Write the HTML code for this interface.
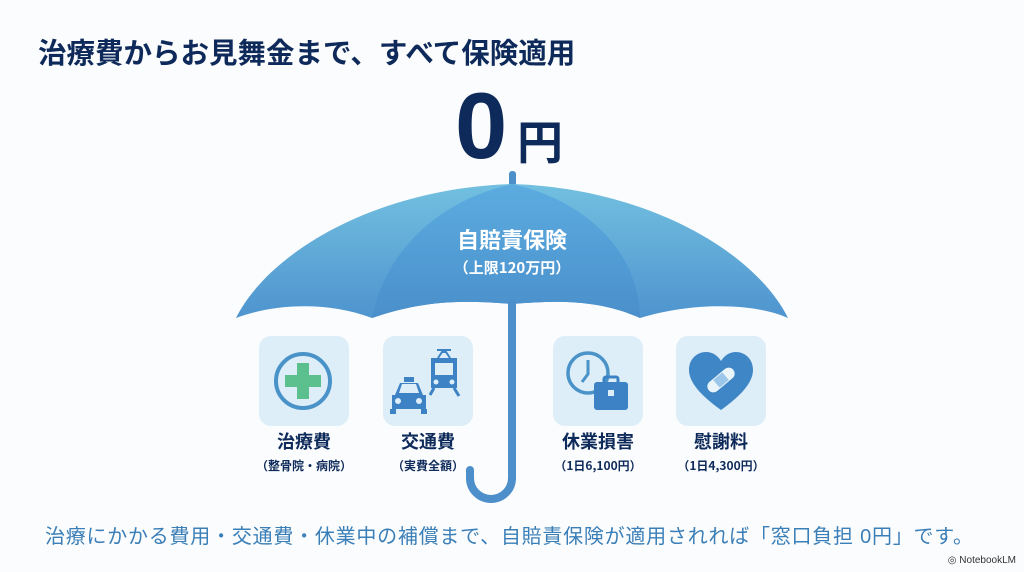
<!DOCTYPE html>
<html><head><meta charset="utf-8"><style>
html,body{margin:0;padding:0;background:#fbfcfd;}
body{width:1024px;height:572px;overflow:hidden;position:relative;font-family:"Liberation Sans","Noto Sans CJK JP",sans-serif;}
</style></head><body>
<svg width="1024" height="572" viewBox="0 0 1024 572" xmlns="http://www.w3.org/2000/svg" style="position:absolute;left:0;top:0">
<defs>
<linearGradient id="cg" x1="0" y1="0" x2="0" y2="1"><stop offset="0" stop-color="#72c0e0"/><stop offset="1" stop-color="#4f94cf"/></linearGradient>
<linearGradient id="mg" x1="0" y1="0" x2="0" y2="1"><stop offset="0" stop-color="#5cace0"/><stop offset="1" stop-color="#4a8fcb"/></linearGradient>
</defs>
<text x="38" y="63" font-size="28.5" font-weight="bold" fill="#0e2a5a" font-family="Liberation Sans,Noto Sans CJK JP,sans-serif">治療費からお見舞金まで、すべて保険適用</text>
<text x="455" y="158" font-size="94" font-weight="bold" fill="#0e2a5a" font-family="Liberation Sans,sans-serif">0</text>
<text x="517" y="159" font-size="46" font-weight="bold" fill="#0e2a5a" font-family="Noto Sans CJK JP,sans-serif">円</text>
<rect x="509" y="171" width="7" height="20" rx="3" fill="#4d90c9"/>
<path d="M236,318 C270,250 380,188 512,184 C644,188 754,250 788,318 C760,305 700,300 640,318 C600,300 560,300 512,304 C464,300 424,300 372,318 C324,300 270,305 236,318 Z" fill="url(#cg)"/>
<path d="M372,318 C385,250 440,200 512,184 C584,200 639,250 640,318 C600,300 560,300 512,304 C464,300 424,300 372,318 Z" fill="url(#mg)"/>
<text x="512" y="248" font-size="22" font-weight="bold" fill="#ffffff" text-anchor="middle" font-family="Noto Sans CJK JP,sans-serif">自賠責保険</text>
<text x="512" y="273" font-size="15" font-weight="bold" fill="#ffffff" text-anchor="middle" font-family="Noto Sans CJK JP,sans-serif">（上限120万円）</text>
<path d="M512,304 L512,478 A21,21 0 0 1 470,478 L470,470" fill="none" stroke="#4d8fca" stroke-width="8" stroke-linecap="round"/>
<rect x="259" y="336" width="90" height="90" rx="12" fill="#ddeef9"/>
<rect x="383" y="336" width="90" height="90" rx="12" fill="#ddeef9"/>
<rect x="553" y="336" width="90" height="90" rx="12" fill="#ddeef9"/>
<rect x="676" y="336" width="90" height="90" rx="12" fill="#ddeef9"/>
<circle cx="303" cy="381" r="27" fill="none" stroke="#4a93c8" stroke-width="4"/>
<path d="M297,363 h12 v12 h12 v12 h-12 v12 h-12 v-12 h-12 v-12 h12 z" fill="#5cbf8e"/>
<path d="M395,395 l5,-12 h18 l5,12 h3 v14 h-34 v-14 z" fill="#3d82c4"/>
<rect x="404" y="377" width="10" height="5" fill="#3d82c4"/>
<rect x="390" y="409" width="6" height="5" fill="#3d82c4"/><rect x="421" y="409" width="6" height="5" fill="#3d82c4"/>
<circle cx="398" cy="401" r="3" fill="#ddeef9"/><circle cx="419" cy="401" r="3" fill="#ddeef9"/>
<path d="M402,384 h14 l3,9 h-20z" fill="#ddeef9"/>
<path d="M431,358 h26 v30 h-26z" fill="#3d82c4"/>
<rect x="435" y="363" width="18" height="12" fill="#ddeef9"/>
<circle cx="436" cy="382" r="2.5" fill="#ddeef9"/><circle cx="452" cy="382" r="2.5" fill="#ddeef9"/>
<path d="M438,358 l4,-6 h4 l4,6 M437,350 h14" stroke="#3d82c4" stroke-width="2" fill="none"/>
<path d="M434,388 l-4,7 M454,388 l5,8" stroke="#3d82c4" stroke-width="3"/>
<circle cx="588" cy="373" r="20" fill="none" stroke="#4a93c8" stroke-width="3.5"/>
<path d="M588,360 v14 l-6,8" stroke="#4a93c8" stroke-width="3" fill="none"/>
<rect x="594" y="382" width="34" height="28" rx="3" fill="#3d82c4"/>
<rect x="604" y="377" width="14" height="7" rx="2" fill="none" stroke="#3d82c4" stroke-width="3"/>
<rect x="608" y="390" width="6" height="6" fill="#ddeef9"/>
<path d="M721,410 C700,395 689,382 689,370 C689,358 698,352 706,352 C713,352 718,356 721,361 C724,356 729,352 736,352 C744,352 753,358 753,370 C753,382 742,395 721,410 Z" fill="#3f86c6"/>
<rect x="705" y="374" width="32" height="12" rx="6" fill="#eaf4fb" transform="rotate(-40 721 380)"/>
<rect x="715" y="375" width="12" height="10" fill="#9cc7e8" transform="rotate(-40 721 380)"/>
<g font-family="Noto Sans CJK JP,sans-serif" fill="#0e2a5a" text-anchor="middle" font-weight="bold">
<text x="304" y="448" font-size="18">治療費</text>
<text x="428" y="448" font-size="18">交通費</text>
<text x="598" y="448" font-size="18">休業損害</text>
<text x="721" y="448" font-size="18">慰謝料</text>
<text x="304" y="470" font-size="12">（整骨院・病院）</text>
<text x="428" y="470" font-size="12">（実費全額）</text>
<text x="598" y="470" font-size="12">（1日6,100円）</text>
<text x="721" y="470" font-size="12">（1日4,300円）</text>
</g>
<text x="45" y="543" font-size="20" fill="#3b7fb8" textLength="928" font-family="Liberation Sans,Noto Sans CJK JP,sans-serif">治療にかかる費用・交通費・休業中の補償まで、自賠責保険が適用されれば「窓口負担 0円」です。</text>
<text x="1016" y="563" font-size="10" fill="#333" text-anchor="end" font-family="Liberation Sans,sans-serif">◎ NotebookLM</text>
</svg>
</body></html>
